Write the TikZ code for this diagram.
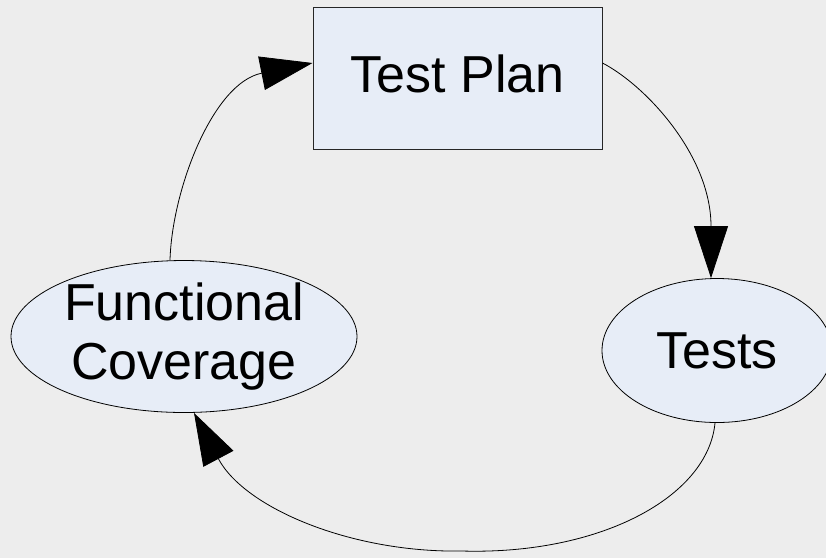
\documentclass[tikz,border=0pt]{standalone}
\usepackage{fontspec}
\setmainfont{Liberation Sans}
\usetikzlibrary{shapes.geometric,arrows.meta}
\definecolor{pagebg}{RGB}{237,237,237}
\definecolor{boxfill}{RGB}{231,237,247}
\tikzset{
  x=1pt, y=-1pt,
  shapetext/.style={font=\fontsize{52pt}{59pt}\selectfont, text=black, align=center},
  planbox/.style={shapetext, draw=black!85, line width=1pt, fill=boxfill,
    rectangle, minimum width=289pt, minimum height=142pt, inner sep=0pt,
    text depth=8pt},
  oval/.style={shapetext, draw=black, line width=0.8pt, fill=boxfill,
    ellipse, inner sep=0pt},
  flow/.style={draw=black, line width=0.8pt,
    -{Triangle[length=52pt,width=34pt]}},
}
\begin{document}
\begin{tikzpicture}
  % page background and fixed extent
  \fill[pagebg] (0,0) rectangle (826,558);
  \useasboundingbox (0,0) rectangle (826,558);

  % nodes
  \node[planbox] (tp) at (457.5,78) {Test Plan};
  \node[oval, minimum width=346pt, minimum height=143pt] (fc) at (184,336.5)
    {Functional\\Coverage};
  \node[oval, minimum width=230pt, minimum height=144pt] (ts) at (717,350.5)
    {Tests};

  % cycle of connectors
  \coordinate (dip) at (462,551);
  \draw[flow] ([yshift=15pt]tp.east)
    .. controls (646.5,86) and (711,156) .. ([xshift=-6pt]ts.north);
  \draw[flow] ([xshift=-2pt]ts.south)
    .. controls (708,497) and (600,555) .. (dip)
    .. controls (352,553) and (244.8,508.4) .. ([xshift=10pt]fc.south);
  \draw[flow] ([xshift=-14pt]fc.north)
    .. controls (172,190) and (212.7,83) .. ([yshift=15pt]tp.west);
\end{tikzpicture}
\end{document}
